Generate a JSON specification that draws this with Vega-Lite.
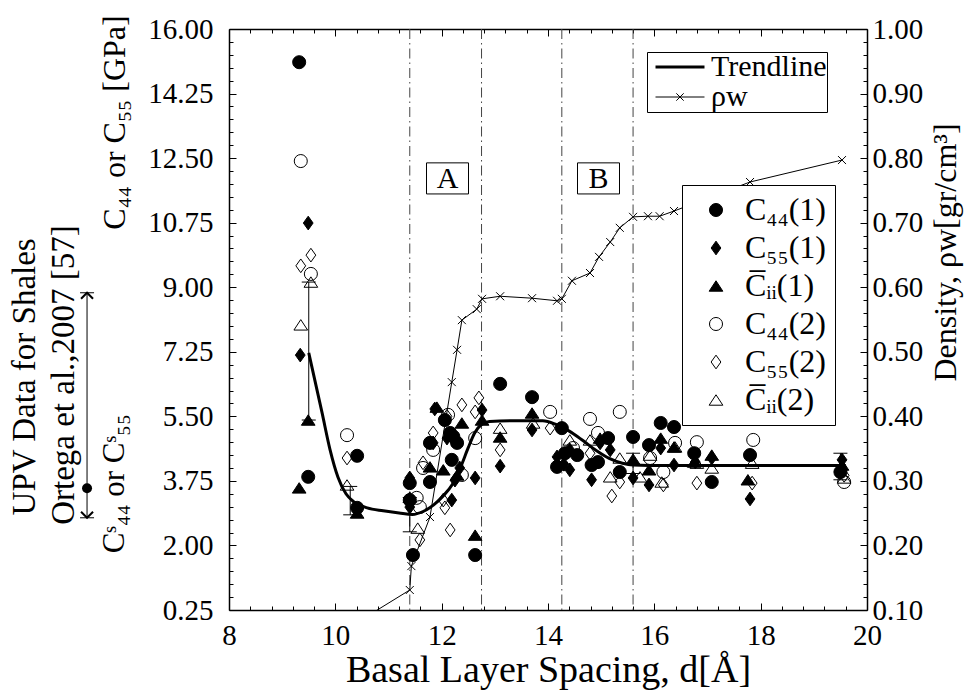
{
  "$schema": "https://vega.github.io/schema/vega-lite/v6.json",
  "width": 638,
  "height": 581,
  "autosize": {"type": "none"},
  "padding": {"left": 229, "top": 29, "right": 99, "bottom": 82},
  "background": "white",
  "config": {
    "font": "Liberation Serif, DejaVu Serif, serif",
    "view": {"stroke": null},
    "axis": {
      "labelFont": "Liberation Serif, DejaVu Serif, serif",
      "labelFontSize": 29,
      "labelColor": "black",
      "titleFont": "Liberation Serif, DejaVu Serif, serif",
      "titleFontSize": 32,
      "titleFontWeight": "normal",
      "titleColor": "black",
      "domainColor": "black",
      "domainWidth": 1.5,
      "ticks": false,
      "tickCount": 100,
      "grid": true,
      "gridColor": "black",
      "gridWidth": 1,
      "gridOpacity": 1,
      "labelFlush": false,
      "labelOverlap": false,
      "labelBound": false
    },
    "legend": {"labelFont": "Liberation Serif, DejaVu Serif, serif", "labelColor": "black"}
  },
  "datasets": {
    "vl": [{"x": 11.4}, {"x": 12.75}, {"x": 14.26}, {"x": 15.6}],
    "err": [
      {"x": 9.5, "lo": 5.4, "hi": 9.14},
      {"x": 10.28, "lo": 2.83, "hi": 3.6},
      {"x": 11.4, "lo": 2.37, "hi": 3.3},
      {"x": 15.6, "lo": 3.95, "hi": 4.5},
      {"x": 19.5, "lo": 3.78, "hi": 4.5}
    ],
    "trend": [
      {"x": 9.5, "y": 7.22}, {"x": 9.75, "y": 5.6}, {"x": 9.9, "y": 4.6}, {"x": 10.05, "y": 3.85},
      {"x": 10.2, "y": 3.4}, {"x": 10.35, "y": 3.18}, {"x": 10.6, "y": 3.02}, {"x": 10.9, "y": 2.94},
      {"x": 11.2, "y": 2.88}, {"x": 11.45, "y": 2.84}, {"x": 11.65, "y": 2.92}, {"x": 11.85, "y": 3.1},
      {"x": 12.02, "y": 3.33}, {"x": 12.2, "y": 3.65}, {"x": 12.35, "y": 4.1}, {"x": 12.5, "y": 4.65},
      {"x": 12.62, "y": 5.05}, {"x": 12.75, "y": 5.28}, {"x": 12.9, "y": 5.36}, {"x": 13.3, "y": 5.38},
      {"x": 13.9, "y": 5.38}, {"x": 14.15, "y": 5.28}, {"x": 14.4, "y": 5.1}, {"x": 14.65, "y": 4.85},
      {"x": 14.9, "y": 4.58}, {"x": 15.15, "y": 4.36}, {"x": 15.4, "y": 4.23}, {"x": 15.6, "y": 4.18},
      {"x": 15.9, "y": 4.17}, {"x": 19.6, "y": 4.17}
    ],
    "pts": [
      {"s": "c1", "x": 9.32, "y": 15.1}, {"s": "c1", "x": 9.49, "y": 3.86}, {"s": "c1", "x": 10.41, "y": 4.43},
      {"s": "c1", "x": 10.41, "y": 3.02}, {"s": "c1", "x": 11.4, "y": 3.69}, {"s": "c1", "x": 11.4, "y": 3.23},
      {"s": "c1", "x": 11.46, "y": 1.74}, {"s": "c1", "x": 11.78, "y": 4.78}, {"s": "c1", "x": 11.78, "y": 3.72},
      {"s": "c1", "x": 12.06, "y": 5.4}, {"s": "c1", "x": 12.16, "y": 5.05}, {"s": "c1", "x": 12.22, "y": 4.95},
      {"s": "c1", "x": 12.29, "y": 4.78}, {"s": "c1", "x": 12.19, "y": 4.32}, {"s": "c1", "x": 12.63, "y": 1.74},
      {"s": "c1", "x": 13.1, "y": 6.38}, {"s": "c1", "x": 13.7, "y": 6.02}, {"s": "c1", "x": 14.26, "y": 5.18},
      {"s": "c1", "x": 14.17, "y": 4.13}, {"s": "c1", "x": 14.32, "y": 4.5}, {"s": "c1", "x": 14.55, "y": 4.45},
      {"s": "c1", "x": 14.82, "y": 4.18}, {"s": "c1", "x": 14.94, "y": 4.26}, {"s": "c1", "x": 15.13, "y": 4.91},
      {"s": "c1", "x": 15.35, "y": 3.99}, {"s": "c1", "x": 15.6, "y": 4.94}, {"s": "c1", "x": 15.9, "y": 4.72},
      {"s": "c1", "x": 16.12, "y": 5.32}, {"s": "c1", "x": 16.37, "y": 5.21}, {"s": "c1", "x": 16.75, "y": 4.5},
      {"s": "c1", "x": 17.08, "y": 3.72}, {"s": "c1", "x": 17.8, "y": 4.45}, {"s": "c1", "x": 19.5, "y": 3.99},
      {"s": "d1", "x": 9.49, "y": 10.74}, {"s": "d1", "x": 9.34, "y": 7.16}, {"s": "d1", "x": 11.4, "y": 3.83},
      {"s": "d1", "x": 11.4, "y": 3.04}, {"s": "d1", "x": 11.84, "y": 4.78}, {"s": "d1", "x": 11.87, "y": 5.7},
      {"s": "d1", "x": 12.1, "y": 4.91}, {"s": "d1", "x": 12.19, "y": 3.23}, {"s": "d1", "x": 12.25, "y": 3.77},
      {"s": "d1", "x": 12.34, "y": 4.1}, {"s": "d1", "x": 12.63, "y": 3.83}, {"s": "d1", "x": 12.76, "y": 5.67},
      {"s": "d1", "x": 13.1, "y": 4.15}, {"s": "d1", "x": 13.7, "y": 5.13}, {"s": "d1", "x": 14.17, "y": 4.4},
      {"s": "d1", "x": 14.41, "y": 4.59}, {"s": "d1", "x": 14.41, "y": 4.05}, {"s": "d1", "x": 14.3, "y": 4.2},
      {"s": "d1", "x": 14.98, "y": 4.78}, {"s": "d1", "x": 14.82, "y": 3.78}, {"s": "d1", "x": 15.17, "y": 4.59},
      {"s": "d1", "x": 15.6, "y": 3.83}, {"s": "d1", "x": 15.9, "y": 3.64}, {"s": "d1", "x": 16.12, "y": 4.64},
      {"s": "d1", "x": 16.37, "y": 4.18}, {"s": "d1", "x": 16.77, "y": 4.26}, {"s": "d1", "x": 17.08, "y": 4.37},
      {"s": "d1", "x": 17.8, "y": 3.26}, {"s": "d1", "x": 19.53, "y": 4.32},
      {"s": "t1", "x": 9.49, "y": 5.4}, {"s": "t1", "x": 9.32, "y": 3.56}, {"s": "t1", "x": 10.41, "y": 2.88},
      {"s": "t1", "x": 11.4, "y": 3.31}, {"s": "t1", "x": 11.78, "y": 4.13}, {"s": "t1", "x": 11.91, "y": 5.75},
      {"s": "t1", "x": 12.03, "y": 4.05}, {"s": "t1", "x": 12.38, "y": 5.32}, {"s": "t1", "x": 12.29, "y": 3.91},
      {"s": "t1", "x": 12.63, "y": 2.28}, {"s": "t1", "x": 12.76, "y": 5.4}, {"s": "t1", "x": 13.1, "y": 4.94},
      {"s": "t1", "x": 13.7, "y": 5.59}, {"s": "t1", "x": 14.98, "y": 4.91}, {"s": "t1", "x": 15.6, "y": 4.34},
      {"s": "t1", "x": 15.9, "y": 4.05}, {"s": "t1", "x": 16.12, "y": 4.91}, {"s": "t1", "x": 16.37, "y": 4.67},
      {"s": "t1", "x": 16.75, "y": 4.26}, {"s": "t1", "x": 17.08, "y": 4.45}, {"s": "t1", "x": 17.76, "y": 3.78},
      {"s": "t1", "x": 19.53, "y": 4.18},
      {"s": "c2", "x": 9.35, "y": 12.42}, {"s": "c2", "x": 9.54, "y": 9.36}, {"s": "c2", "x": 10.22, "y": 4.99},
      {"s": "c2", "x": 11.53, "y": 3.29}, {"s": "c2", "x": 11.59, "y": 3.04}, {"s": "c2", "x": 11.65, "y": 4.1},
      {"s": "c2", "x": 11.84, "y": 4.59}, {"s": "c2", "x": 12.12, "y": 5.54}, {"s": "c2", "x": 12.38, "y": 3.91},
      {"s": "c2", "x": 12.63, "y": 4.91}, {"s": "c2", "x": 14.04, "y": 5.62}, {"s": "c2", "x": 14.47, "y": 4.64},
      {"s": "c2", "x": 14.79, "y": 5.43}, {"s": "c2", "x": 14.94, "y": 5.05}, {"s": "c2", "x": 15.35, "y": 5.62},
      {"s": "c2", "x": 15.92, "y": 4.37}, {"s": "c2", "x": 16.17, "y": 3.99}, {"s": "c2", "x": 16.39, "y": 4.78},
      {"s": "c2", "x": 16.8, "y": 4.8}, {"s": "c2", "x": 17.86, "y": 4.86}, {"s": "c2", "x": 19.57, "y": 3.72},
      {"s": "d2", "x": 9.54, "y": 9.87}, {"s": "d2", "x": 9.35, "y": 9.58}, {"s": "d2", "x": 10.22, "y": 4.37},
      {"s": "d2", "x": 11.59, "y": 2.15}, {"s": "d2", "x": 11.65, "y": 4.24}, {"s": "d2", "x": 11.84, "y": 5.05},
      {"s": "d2", "x": 12.03, "y": 3.23}, {"s": "d2", "x": 12.06, "y": 3.02}, {"s": "d2", "x": 12.16, "y": 2.42},
      {"s": "d2", "x": 12.1, "y": 5.5}, {"s": "d2", "x": 12.38, "y": 5.81}, {"s": "d2", "x": 12.7, "y": 6.0},
      {"s": "d2", "x": 12.63, "y": 5.62}, {"s": "d2", "x": 13.1, "y": 4.59}, {"s": "d2", "x": 14.04, "y": 5.18},
      {"s": "d2", "x": 14.79, "y": 4.5}, {"s": "d2", "x": 15.2, "y": 3.34}, {"s": "d2", "x": 15.35, "y": 3.72},
      {"s": "d2", "x": 16.17, "y": 3.64}, {"s": "d2", "x": 16.8, "y": 3.69}, {"s": "d2", "x": 17.84, "y": 3.69},
      {"s": "d2", "x": 19.57, "y": 3.9},
      {"s": "t2", "x": 9.54, "y": 9.14}, {"s": "t2", "x": 9.35, "y": 7.98}, {"s": "t2", "x": 10.22, "y": 3.64},
      {"s": "t2", "x": 11.55, "y": 2.47}, {"s": "t2", "x": 13.1, "y": 5.18}, {"s": "t2", "x": 13.72, "y": 5.32},
      {"s": "t2", "x": 14.41, "y": 4.86}, {"s": "t2", "x": 14.79, "y": 4.86}, {"s": "t2", "x": 15.17, "y": 3.86},
      {"s": "t2", "x": 15.35, "y": 4.37}, {"s": "t2", "x": 15.73, "y": 3.86}, {"s": "t2", "x": 15.92, "y": 4.45},
      {"s": "t2", "x": 16.14, "y": 3.72}, {"s": "t2", "x": 16.39, "y": 4.67}, {"s": "t2", "x": 16.8, "y": 4.23},
      {"s": "t2", "x": 17.08, "y": 4.1}, {"s": "t2", "x": 17.84, "y": 4.23}, {"s": "t2", "x": 19.57, "y": 3.83}
    ],
    "box": [{"label": "A", "x": 12.11, "y": 11.95}, {"label": "B", "x": 14.95, "y": 11.95}],
    "ann": [
      {"t": "UPV Data for Shales", "x": 4.16, "y": 6.57},
      {"t": "Ortega et al.,2007 [57]", "x": 4.9, "y": 6.62}
    ],
    "ann2": [
      {"t": "Cˢ₄₄ or Cˢ₅₅", "x": 5.86, "y": 3.67}
    ],
    "arrow": [{"x": 5.33, "lo": 2.75, "hi": 8.85, "dot": 3.55}],
    "rho": [
      {"x": 10.0, "r": 0.06}, {"x": 11.4, "r": 0.131}, {"x": 11.43, "r": 0.168}, {"x": 11.78, "r": 0.244},
      {"x": 12.19, "r": 0.453}, {"x": 12.29, "r": 0.503}, {"x": 12.38, "r": 0.549}, {"x": 12.66, "r": 0.566},
      {"x": 12.76, "r": 0.582}, {"x": 13.1, "r": 0.586}, {"x": 13.7, "r": 0.583}, {"x": 14.17, "r": 0.579},
      {"x": 14.26, "r": 0.582}, {"x": 14.45, "r": 0.61}, {"x": 14.79, "r": 0.622}, {"x": 14.96, "r": 0.647},
      {"x": 15.17, "r": 0.67}, {"x": 15.35, "r": 0.692}, {"x": 15.6, "r": 0.709}, {"x": 15.88, "r": 0.71},
      {"x": 16.1, "r": 0.71}, {"x": 16.37, "r": 0.718}, {"x": 17.8, "r": 0.763}, {"x": 19.53, "r": 0.797}
    ]
  },
  "layer": [
    {
      "layer": [
        {
          "data": {"name": "vl"},
          "mark": {"type": "rule", "color": "#444", "strokeWidth": 1, "strokeDash": [10, 4, 1.5, 4]},
          "encoding": {
            "x": {
              "field": "x", "type": "quantitative",
              "scale": {"domain": [8, 20], "nice": false, "zero": false},
              "axis": {
                "orient": "bottom",
                "title": "Basal Layer Spacing, d[Å]",
                "titleFontSize": 38,
                "values": [8, 8.4, 8.8, 9.2, 9.6, 10, 10.4, 10.8, 11.2, 11.6, 12, 12.4, 12.8, 13.2, 13.6, 14, 14.4, 14.8, 15.2, 15.6, 16, 16.4, 16.8, 17.2, 17.6, 18, 18.4, 18.8, 19.2, 19.6, 20],
                "tickCount": 100,
                "ticks": false,
                "grid": true,
                "gridDash": {"condition": {"test": "abs(datum.value/2 - round(datum.value/2)) < 0.01", "value": [7, 2000]}, "value": [4, 2000]},
                "labelExpr": "abs(datum.value/2 - round(datum.value/2)) < 0.01 ? '' + round(datum.value) : ''",
                "labelOverlap": false,
                "labelPadding": 11,
                "titlePadding": 1
              }
            }
          }
        },
        {
          "data": {"name": "err"},
          "mark": {"type": "rule", "color": "black", "strokeWidth": 1},
          "encoding": {
            "x": {"field": "x", "type": "quantitative", "scale": {"domain": [8, 20], "nice": false, "zero": false}},
            "y": {"field": "lo", "type": "quantitative", "scale": {"domain": [0.25, 16], "nice": false, "zero": false}},
            "y2": {"field": "hi"}
          }
        },
        {
          "data": {"name": "err"},
          "mark": {"type": "tick", "orient": "horizontal", "color": "black", "size": 14, "thickness": 1, "opacity": 1},
          "encoding": {
            "x": {"field": "x", "type": "quantitative", "scale": {"domain": [8, 20], "nice": false, "zero": false}},
            "y": {"field": "lo", "type": "quantitative", "scale": {"domain": [0.25, 16], "nice": false, "zero": false}}
          }
        },
        {
          "data": {"name": "err"},
          "mark": {"type": "tick", "orient": "horizontal", "color": "black", "size": 14, "thickness": 1, "opacity": 1},
          "encoding": {
            "x": {"field": "x", "type": "quantitative", "scale": {"domain": [8, 20], "nice": false, "zero": false}},
            "y": {"field": "hi", "type": "quantitative", "scale": {"domain": [0.25, 16], "nice": false, "zero": false}}
          }
        },
        {
          "data": {"name": "trend"},
          "mark": {"type": "line", "color": "black", "interpolate": "monotone"},
          "encoding": {
            "x": {"field": "x", "type": "quantitative", "scale": {"domain": [8, 20], "nice": false, "zero": false}},
            "y": {"field": "y", "type": "quantitative", "scale": {"domain": [0.25, 16], "nice": false, "zero": false}},
            "strokeWidth": {
              "datum": "Trendline", "type": "ordinal",
              "scale": {"domain": ["Trendline", "ρw"], "range": [3, 1]},
              "legend": {
                "title": null, "orient": "none", "legendX": 418, "legendY": 23,
                "strokeColor": "black", "fillColor": "white", "padding": 0, "rowPadding": -13, "labelFontSize": 30,
                "labelExpr": "datum.label == 'Trendline' ? 'Trendline\u2002' : datum.label",
                "symbolType": "M-4,0H4", "symbolSize": 150, "symbolStrokeColor": "black", "symbolOffset": 18, "labelOffset": 16,
                "encode": {"symbols": {"update": {"shape": {"signal": "datum.value == 'ρw' ? 'M-4,0H4M-0.6,-0.6L0.6,0.6M-0.6,0.6L0.6,-0.6' : 'M-4,0H4'"}}}}
              }
            }
          }
        },
        {
          "data": {"name": "pts"},
          "mark": {"type": "point", "filled": true, "stroke": "black", "strokeWidth": 1, "opacity": 1, "size": 170},
          "encoding": {
            "x": {"field": "x", "type": "quantitative", "scale": {"domain": [8, 20], "nice": false, "zero": false}},
            "y": {
              "field": "y", "type": "quantitative",
              "scale": {"domain": [0.25, 16], "nice": false, "zero": false},
              "axis": {
                "orient": "left",
                "title": "C₄₄ or C₅₅ [GPa]",
                "values": [0.25, 0.6, 0.95, 1.3, 1.65, 2, 2.35, 2.7, 3.05, 3.4, 3.75, 4.1, 4.45, 4.8, 5.15, 5.5, 5.85, 6.2, 6.55, 6.9, 7.25, 7.6, 7.95, 8.3, 8.65, 9, 9.35, 9.7, 10.05, 10.4, 10.75, 11.1, 11.45, 11.8, 12.15, 12.5, 12.85, 13.2, 13.55, 13.9, 14.25, 14.6, 14.95, 15.3, 15.65, 16],
                "tickCount": 100,
                "ticks": false,
                "grid": true,
                "gridDash": {"condition": {"test": "abs((datum.value-0.25)/1.75 - round((datum.value-0.25)/1.75)) < 0.01", "value": [7, 2000]}, "value": [4, 2000]},
                "labelExpr": "abs((datum.value-0.25)/1.75 - round((datum.value-0.25)/1.75)) < 0.01 ? format(datum.value, '.2f') : ''",
                "labelOverlap": false,
                "labelPadding": 16,
                "titleY": 93,
                "titleAlign": "center",
                "titlePadding": 16
              }
            },
            "shape": {
              "field": "s", "type": "nominal",
              "scale": {"domain": ["c1", "d1", "t1", "c2", "d2", "t2"], "range": ["circle", "M0,-1.05L0.75,0L0,1.05L-0.75,0Z", "M0,-0.8L1.05,0.8L-1.05,0.8Z", "circle", "M0,-1.05L0.75,0L0,1.05L-0.75,0Z", "M0,-0.8L1.05,0.8L-1.05,0.8Z"]},
              "legend": {
                "title": null, "orient": "none", "legendX": 453, "legendY": 156,
                "strokeColor": "black", "fillColor": "white", "padding": 9, "rowPadding": 6,
                "labelFontSize": 32,
                "labelExpr": "datum.label == 'c1' ? 'C₄₄(1)' : datum.label == 'd1' ? 'C₅₅(1)' : datum.label == 't1' ? 'C̅ᵢᵢ(1)' : datum.label == 'c2' ? 'C₄₄(2)' : datum.label == 'd2' ? 'C₅₅(2)' : 'C̅ᵢᵢ(2)'",
                "symbolSize": 170, "symbolStrokeColor": "black", "symbolStrokeWidth": 1,
                "symbolOffset": 9, "labelOffset": 13
              }
            },
            "fill": {
              "field": "s", "type": "nominal",
              "scale": {"domain": ["c1", "d1", "t1", "c2", "d2", "t2"], "range": ["black", "black", "black", "transparent", "transparent", "transparent"]}
            },
            "stroke": {
              "field": "s", "type": "nominal",
              "scale": {"domain": ["c1", "d1", "t1", "c2", "d2", "t2"], "range": ["black", "black", "black", "black", "black", "black"]}
            }
          }
        },
        {
          "data": {"name": "box"},
          "mark": {"type": "point", "shape": "M-1,-0.74H1V0.74H-1Z", "size": 1764, "filled": true, "fill": "white", "stroke": "black", "strokeWidth": 1, "opacity": 1},
          "encoding": {
            "x": {"field": "x", "type": "quantitative", "scale": {"domain": [8, 20], "nice": false, "zero": false}},
            "y": {"field": "y", "type": "quantitative", "scale": {"domain": [0.25, 16], "nice": false, "zero": false}}
          }
        },
        {
          "data": {"name": "box"},
          "mark": {"type": "text", "fontSize": 30, "align": "center", "baseline": "middle", "dy": 1, "color": "black"},
          "encoding": {
            "x": {"field": "x", "type": "quantitative", "scale": {"domain": [8, 20], "nice": false, "zero": false}},
            "y": {"field": "y", "type": "quantitative", "scale": {"domain": [0.25, 16], "nice": false, "zero": false}},
            "text": {"field": "label"}
          }
        },
        {
          "data": {"name": "ann"},
          "mark": {"type": "text", "angle": 270, "fontSize": 33, "align": "center", "baseline": "middle", "color": "black"},
          "encoding": {
            "x": {"field": "x", "type": "quantitative", "scale": {"domain": [8, 20], "nice": false, "zero": false}},
            "y": {"field": "y", "type": "quantitative", "scale": {"domain": [0.25, 16], "nice": false, "zero": false}},
            "text": {"field": "t"}
          }
        },
        {
          "data": {"name": "ann2"},
          "mark": {"type": "text", "angle": 270, "fontSize": 31, "align": "center", "baseline": "middle", "color": "black"},
          "encoding": {
            "x": {"field": "x", "type": "quantitative", "scale": {"domain": [8, 20], "nice": false, "zero": false}},
            "y": {"field": "y", "type": "quantitative", "scale": {"domain": [0.25, 16], "nice": false, "zero": false}},
            "text": {"field": "t"}
          }
        },
        {
          "data": {"name": "arrow"},
          "mark": {"type": "rule", "color": "black", "strokeWidth": 1},
          "encoding": {
            "x": {"field": "x", "type": "quantitative", "scale": {"domain": [8, 20], "nice": false, "zero": false}},
            "y": {"field": "lo", "type": "quantitative", "scale": {"domain": [0.25, 16], "nice": false, "zero": false}},
            "y2": {"field": "hi"}
          }
        },
        {
          "data": {"name": "arrow"},
          "mark": {"type": "tick", "orient": "horizontal", "color": "black", "size": 14, "thickness": 1, "opacity": 1},
          "encoding": {
            "x": {"field": "x", "type": "quantitative", "scale": {"domain": [8, 20], "nice": false, "zero": false}},
            "y": {"field": "lo", "type": "quantitative", "scale": {"domain": [0.25, 16], "nice": false, "zero": false}}
          }
        },
        {
          "data": {"name": "arrow"},
          "mark": {"type": "tick", "orient": "horizontal", "color": "black", "size": 14, "thickness": 1, "opacity": 1},
          "encoding": {
            "x": {"field": "x", "type": "quantitative", "scale": {"domain": [8, 20], "nice": false, "zero": false}},
            "y": {"field": "hi", "type": "quantitative", "scale": {"domain": [0.25, 16], "nice": false, "zero": false}}
          }
        },
        {
          "data": {"name": "arrow"},
          "mark": {"type": "point", "shape": "M-1,1L0,0L1,1", "size": 144, "filled": false, "stroke": "black", "strokeWidth": 2, "opacity": 1},
          "encoding": {
            "x": {"field": "x", "type": "quantitative", "scale": {"domain": [8, 20], "nice": false, "zero": false}},
            "y": {"field": "hi", "type": "quantitative", "scale": {"domain": [0.25, 16], "nice": false, "zero": false}}
          }
        },
        {
          "data": {"name": "arrow"},
          "mark": {"type": "point", "shape": "M-1,-1L0,0L1,-1", "size": 144, "filled": false, "stroke": "black", "strokeWidth": 2, "opacity": 1},
          "encoding": {
            "x": {"field": "x", "type": "quantitative", "scale": {"domain": [8, 20], "nice": false, "zero": false}},
            "y": {"field": "lo", "type": "quantitative", "scale": {"domain": [0.25, 16], "nice": false, "zero": false}}
          }
        },
        {
          "data": {"name": "arrow"},
          "mark": {"type": "point", "shape": "circle", "size": 100, "filled": true, "color": "black", "opacity": 1},
          "encoding": {
            "x": {"field": "x", "type": "quantitative", "scale": {"domain": [8, 20], "nice": false, "zero": false}},
            "y": {"field": "dot", "type": "quantitative", "scale": {"domain": [0.25, 16], "nice": false, "zero": false}}
          }
        }
      ]
    },
    {
      "layer": [
        {
          "data": {"name": "rho"},
          "mark": {"type": "line", "color": "black", "clip": true},
          "encoding": {
            "x": {
              "field": "x", "type": "quantitative",
              "scale": {"domain": [8, 20], "nice": false, "zero": false},
              "axis": {
                "orient": "top",
                "title": null,
                "labels": false,
                "ticks": false,
                "grid": true,
                "gridDash": {"condition": {"test": "abs(datum.value/2 - round(datum.value/2)) < 0.01", "value": [7, 2000]}, "value": [4, 2000]},
                "tickCount": 100,
                "values": [8, 8.4, 8.8, 9.2, 9.6, 10, 10.4, 10.8, 11.2, 11.6, 12, 12.4, 12.8, 13.2, 13.6, 14, 14.4, 14.8, 15.2, 15.6, 16, 16.4, 16.8, 17.2, 17.6, 18, 18.4, 18.8, 19.2, 19.6, 20]
              }
            },
            "y": {
              "field": "r", "type": "quantitative",
              "scale": {"domain": [0.1, 1.0], "nice": false, "zero": false},
              "axis": {
                "orient": "right",
                "title": "Density, ρw[gr/cm³]",
                "titleFontSize": 32,
                "values": [0.1, 0.12, 0.14, 0.16, 0.18, 0.2, 0.22, 0.24, 0.26, 0.28, 0.3, 0.32, 0.34, 0.36, 0.38, 0.4, 0.42, 0.44, 0.46, 0.48, 0.5, 0.52, 0.54, 0.56, 0.58, 0.6, 0.62, 0.64, 0.66, 0.68, 0.7, 0.72, 0.74, 0.76, 0.78, 0.8, 0.82, 0.84, 0.86, 0.88, 0.9, 0.92, 0.94, 0.96, 0.98, 1.0],
                "tickCount": 100,
                "ticks": false,
                "grid": true,
                "gridDash": {"condition": {"test": "abs(datum.value*10 - round(datum.value*10)) < 0.01", "value": [7, 2000]}, "value": [4, 2000]},
                "labelExpr": "abs(datum.value*10 - round(datum.value*10)) < 0.01 ? format(datum.value, '.2f') : ''",
                "labelOverlap": false,
                "labelPadding": 5,
                "titleAngle": 270,
                "titleBaseline": "top",
                "titleAlign": "center",
                "titleY": 223,
                "titlePadding": 8
              }
            },
            "strokeWidth": {
              "datum": "ρw", "type": "ordinal",
              "scale": {"domain": ["Trendline", "ρw"], "range": [3, 1]},
              "legend": {
                "title": null, "orient": "none", "legendX": 418, "legendY": 23,
                "strokeColor": "black", "fillColor": "white", "padding": 0, "rowPadding": -13, "labelFontSize": 30,
                "labelExpr": "datum.label == 'Trendline' ? 'Trendline\u2002' : datum.label",
                "symbolType": "M-4,0H4", "symbolSize": 150, "symbolStrokeColor": "black", "symbolOffset": 18, "labelOffset": 16,
                "encode": {"symbols": {"update": {"shape": {"signal": "datum.value == 'ρw' ? 'M-4,0H4M-0.6,-0.6L0.6,0.6M-0.6,0.6L0.6,-0.6' : 'M-4,0H4'"}}}}
              }
            }
          }
        },
        {
          "data": {"name": "rho"},
          "mark": {"type": "point", "shape": "M-1,-1L1,1M-1,1L1,-1", "size": 64, "filled": false, "stroke": "black", "strokeWidth": 1, "opacity": 1, "clip": true},
          "encoding": {
            "x": {"field": "x", "type": "quantitative", "scale": {"domain": [8, 20], "nice": false, "zero": false}},
            "y": {"field": "r", "type": "quantitative", "scale": {"domain": [0.1, 1.0], "nice": false, "zero": false}}
          }
        }
      ]
    }
  ],
  "resolve": {"scale": {"y": "independent"}, "axis": {"x": "independent", "y": "independent"}}
}
